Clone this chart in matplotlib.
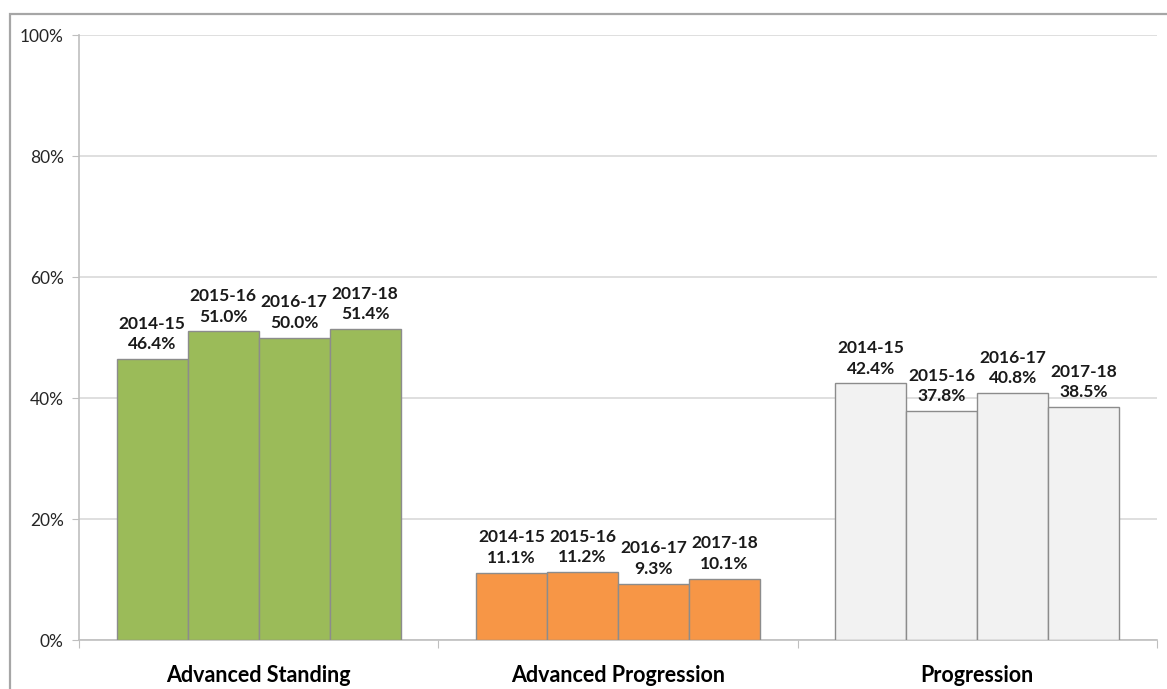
import matplotlib.pyplot as plt
import matplotlib.patches as patches
import numpy as np

plt.rcParams['font.family'] = ['Lato', 'DejaVu Sans']

# dados
categorias = ['Advanced Standing', 'Advanced Progression', 'Progression']
anos = ['2014-15', '2015-16', '2016-17', '2017-18']
advanced_standing = [46.4, 51.0, 50.0, 51.4]
advanced_progression = [11.1, 11.2, 9.3, 10.1]
progression = [42.4, 37.8, 40.8, 38.5]
valores = [advanced_standing, advanced_progression, progression]
cores = ['#9BBB59', '#F79646', '#F2F2F2']

fig = plt.figure(figsize=(11.67, 6.89), dpi=100)
ax = fig.add_axes([0.0677, 0.0711, 0.9237, 0.8781])

# borda cinza do gráfico (cortada na direita e embaixo)
borda = patches.Rectangle((10 / 1167, -0.1), 1.2, 1.1 - 14 / 689,
                          transform=fig.transFigure, fill=False,
                          edgecolor='#A6A6A6', linewidth=1.6, zorder=0)
fig.patches.append(borda)

largura = 0.79 / 4
x = np.arange(len(categorias))
for i, (vals, cor) in enumerate(zip(valores, cores)):
    for j, v in enumerate(vals):
        xpos = x[i] - 0.395 + largura * (j + 0.5)
        ax.bar(xpos, v, width=largura, color=cor, edgecolor='#8C8C8C',
               linewidth=1.0, zorder=3)
        ax.annotate(f'{anos[j]}\n{v:.1f}%', (xpos, v), xytext=(0, 5),
                    textcoords='offset points', ha='center', va='bottom',
                    fontsize=12.5, fontweight='bold', linespacing=1.35,
                    color='#1a1a1a', zorder=4)

ax.set_xlim(-0.5, 2.5)
ax.set_ylim(0, 100)
ax.set_yticks([0, 20, 40, 60, 80, 100])
ax.set_yticklabels(['0%', '20%', '40%', '60%', '80%', '100%'], fontsize=12.5,
                   color='#262626')
ax.yaxis.grid(True, color='#D9D9D9', linewidth=1.2, zorder=0)
ax.set_axisbelow(True)

# ticks do eixo x nas divisas das categorias
ax.set_xticks([-0.5, 0.5, 1.5, 2.5])
ax.set_xticklabels([])
ax.set_xticks(x, minor=True)
ax.set_xticklabels(categorias, minor=True, fontsize=15.5, fontweight='bold')
ax.tick_params(axis='x', which='minor', length=0, pad=18)
ax.tick_params(axis='x', which='major', length=6, color='#BFBFBF')
ax.tick_params(axis='y', length=5, color='#BFBFBF', pad=6)

for s in ['top', 'right']:
    ax.spines[s].set_visible(False)
ax.spines['left'].set_color('#BFBFBF')
ax.spines['bottom'].set_color('#BFBFBF')
ax.spines['left'].set_linewidth(1.2)
ax.spines['bottom'].set_linewidth(1.2)

fig.savefig('out.png', dpi=100)
